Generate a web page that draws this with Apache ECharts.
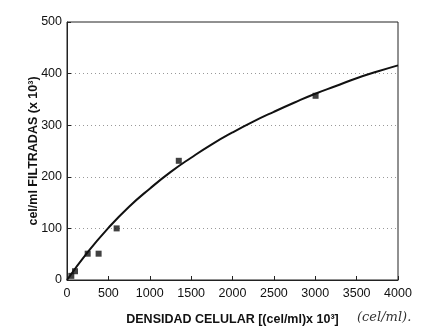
<!DOCTYPE html>
<html><head><meta charset="utf-8">
<script src="https://cdn.jsdelivr.net/npm/echarts@6/dist/echarts.min.js"></script>
<style>html,body{margin:0;padding:0;background:#fff}#c{width:433px;height:335px}</style>
</head><body><div id="c"></div>
<script>
var pointsX = [52, 97, 250, 382, 600, 1351, 3004];
var pointsY = [8, 17, 51, 51, 100, 231, 357];
var curveX = [0, 250, 500, 750, 1000, 1250, 1500, 1750, 2000, 2250, 2500, 2750, 3000, 3250, 3500, 3750, 4000];
var curveY = [0, 54, 101, 142, 177, 209, 237, 263, 286, 307, 326, 344, 361, 376, 391, 404, 416];
var xTicks = [0, 500, 1000, 1500, 2000, 2500, 3000, 3500, 4000];
var yTicks = [0, 100, 200, 300, 400, 500];

var chart = echarts.init(document.getElementById('c'), null, {renderer: 'canvas'});
var font = 'Liberation Sans, Arial, sans-serif';
chart.setOption({
  animation: false,
  grid: {left: 67, right: 35, top: 22, bottom: 55, show: true, borderColor: '#222', borderWidth: 1},
  xAxis: {
    type: 'value', min: 0, max: 4000, interval: 500,
    axisLine: {show: true, lineStyle: {color: '#222'}},
    axisTick: {show: true, inside: true, length: 4, lineStyle: {color: '#222'}},
    axisLabel: {color: '#111', fontSize: 12.5, fontFamily: font, margin: 7,
      formatter: function (v) { return xTicks.indexOf(v) >= 0 ? String(v) : ''; }},
    splitLine: {show: false},
    name: 'DENSIDAD CELULAR [(cel/ml)x 10³]', nameLocation: 'middle', nameGap: 33,
    nameMoveOverlap: false,
    nameTextStyle: {color: '#111', fontSize: 12.5, fontWeight: 'bold', fontFamily: font}
  },
  yAxis: {
    type: 'value', min: 0, max: 500, interval: 100,
    axisLine: {show: true, lineStyle: {color: '#222'}},
    axisTick: {show: true, inside: true, length: 4, lineStyle: {color: '#222'}},
    axisLabel: {color: '#111', fontSize: 12.5, fontFamily: font, margin: 5,
      formatter: function (v) { return yTicks.indexOf(v) >= 0 ? String(v) : ''; }},
    splitLine: {show: true, lineStyle: {color: '#999', type: [1, 3], width: 1},
      showMinLine: false, showMaxLine: false},
    name: 'cel/ml FILTRADAS (x 10³)', nameLocation: 'middle', nameGap: 27,
    nameMoveOverlap: false,
    nameTextStyle: {color: '#111', fontSize: 12.5, fontWeight: 'bold', fontFamily: font}
  },
  graphic: [{
    type: 'text', left: 357, top: 311,
    style: {text: '(cel/ml).', fill: '#333', font: 'italic 13px "DejaVu Serif", serif'}
  }],
  series: [{
    type: 'line', data: curveX.map(function (x, i) { return [x, curveY[i]]; }),
    smooth: true, showSymbol: false, lineStyle: {color: '#111', width: 2}, z: 2
  }, {
    type: 'scatter', data: pointsX.map(function (x, i) { return [x, pointsY[i]]; }),
    symbol: 'rect', symbolSize: 6, itemStyle: {color: '#111'}, z: 3
  }]
});
</script></body></html>
